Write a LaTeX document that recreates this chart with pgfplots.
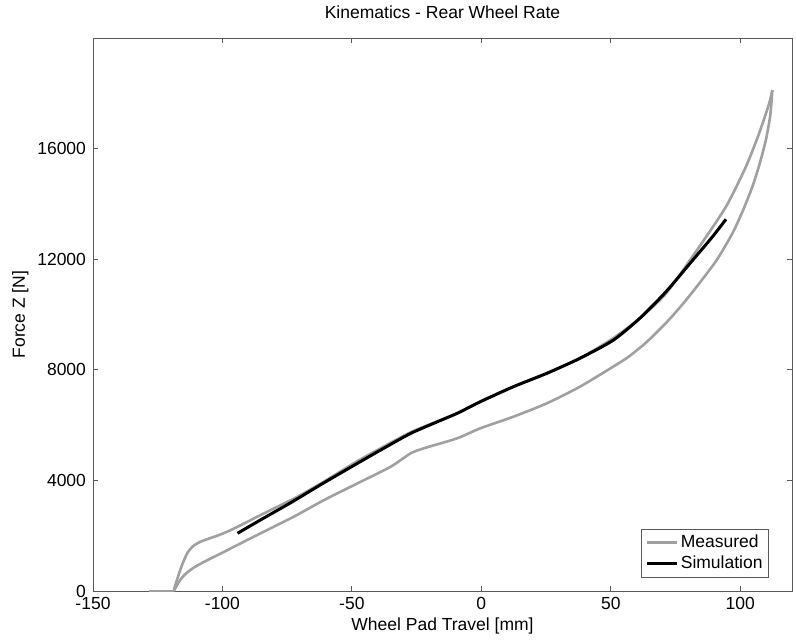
\documentclass[border=0pt]{standalone}
\usepackage{fontspec}
\setmainfont{Liberation Sans}
\usepackage{pgfplots}
\pgfplotsset{compat=1.18}
\definecolor{meas}{RGB}{160,160,160}
\definecolor{axgray}{RGB}{90,90,90}
\begin{document}
\fontsize{17.5bp}{21bp}\selectfont
\begin{tikzpicture}
\begin{axis}[
  at={(0,0)}, anchor=south west,
  scale only axis, width=699bp, height=553bp,
  xmin=-150, xmax=120, ymin=0, ymax=20000,
  xtick={-150,-100,-50,0,50,100},
  ytick={0,4000,8000,12000,16000},
  /pgf/number format/assume math mode=true,
  /pgf/number format/1000 sep={},
  scaled y ticks=false,
  tick align=inside,
  major tick length=5bp,
  axis line style={axgray, line width=0.8bp},
  every tick/.style={axgray, line width=0.8bp},
  tick label style={font=\fontsize{17.5bp}{21bp}\selectfont, black},
  yticklabel style={xshift=-1bp},
  title={Kinematics - Rear Wheel Rate},
  xlabel={Wheel Pad Travel [mm]},
  ylabel={Force Z [N]},
  title style={at={(axis description cs:0.5,1.036)}, anchor=center, font=\fontsize{17.5bp}{21bp}\selectfont},
  every axis x label/.style={at={(axis description cs:0.5,-0.064)}, anchor=center, font=\fontsize{17.5bp}{21bp}\selectfont},
  every axis y label/.style={at={(axis description cs:-0.104,0.5)}, anchor=center, rotate=90, font=\fontsize{17.5bp}{21bp}\selectfont},
  legend style={at={(rel axis cs:0.967,0.0235)}, anchor=south east, draw=axgray, line width=0.8bp, font=\fontsize{17.5bp}{21bp}\selectfont, inner sep=4bp, row sep=2bp, cells={anchor=west}},
  legend cell align=left,
  legend image code/.code={\draw[#1] (0bp,0bp) -- (30bp,0bp);},
]
\addplot[meas, line width=2.6bp, line join=round, smooth, tension=0.4] coordinates {
(-118.8,0) (-118.4,150) (-117.5,420) (-116.3,760) (-115,1080) (-113.5,1380)
(-111.5,1610) (-109,1760) (-106,1870) (-102,2000) (-98,2150) (-94,2330)
(-90,2520) (-85,2760) (-80,2990) (-75,3220) (-70,3460) (-60.7,3960)
(-47.8,4700) (-35.0,5360) (-27.3,5740) (-22.2,5942)
(-9.3,6427) (-0.4,6846) (12.4,7389) (25.3,7873) (38.1,8416) (50.9,9139)
(61.2,9862) (71.4,10767) (84.2,12452) (94.5,13899) (102.2,15345) (107.3,16553)
(111.2,17638) (112.4,18119)
};
\addlegendentry{Measured}
\addplot[meas, line width=2.6bp, line join=round, forget plot] coordinates {
(-128.5,0) (-118.8,0)
};
\addplot[meas, line width=2.6bp, line join=round, smooth, tension=0.4, forget plot] coordinates {
(112.4,18119) (111.6,17200) (109.9,16311) (107.5,15450) (104.7,14622) (101,13750) (97.0,12937)
(91,11980) (84.2,11128) (78,10400) (71.4,9700) (63.7,8990) (57,8480) (50.9,8112)
(38.1,7389) (25.3,6788) (12.4,6304)
(-0.4,5884) (-9.3,5523) (-22.2,5161) (-27.3,4980) (-35.0,4495) (-47.8,3895)
(-60.7,3291) (-71.2,2749) (-76.3,2506) (-84.0,2145) (-91.7,1783) (-99.3,1421)
(-107.0,1060) (-111,850) (-113.5,680) (-115.5,500) (-117,300) (-118.2,100) (-118.8,0)
};
\addplot[black, line width=3bp, line join=round, smooth, tension=0.4] coordinates {
(-94.2,2087) (-84,2640) (-73.5,3200) (-60.7,3920) (-47.8,4620) (-37,5200) (-27.3,5700)
(-18,6080) (-9.3,6427) (-0.4,6846)
(12.4,7389) (25.3,7873) (38.1,8416) (50.9,9067) (61.2,9862) (71.4,10831)
(81.7,11971) (89.3,12814) (94.5,13443)
};
\addlegendentry{Simulation}
\end{axis}
\pgfresetboundingbox
\useasboundingbox (-93bp,-53bp) rectangle (703bp,591bp);
\end{tikzpicture}
\end{document}
